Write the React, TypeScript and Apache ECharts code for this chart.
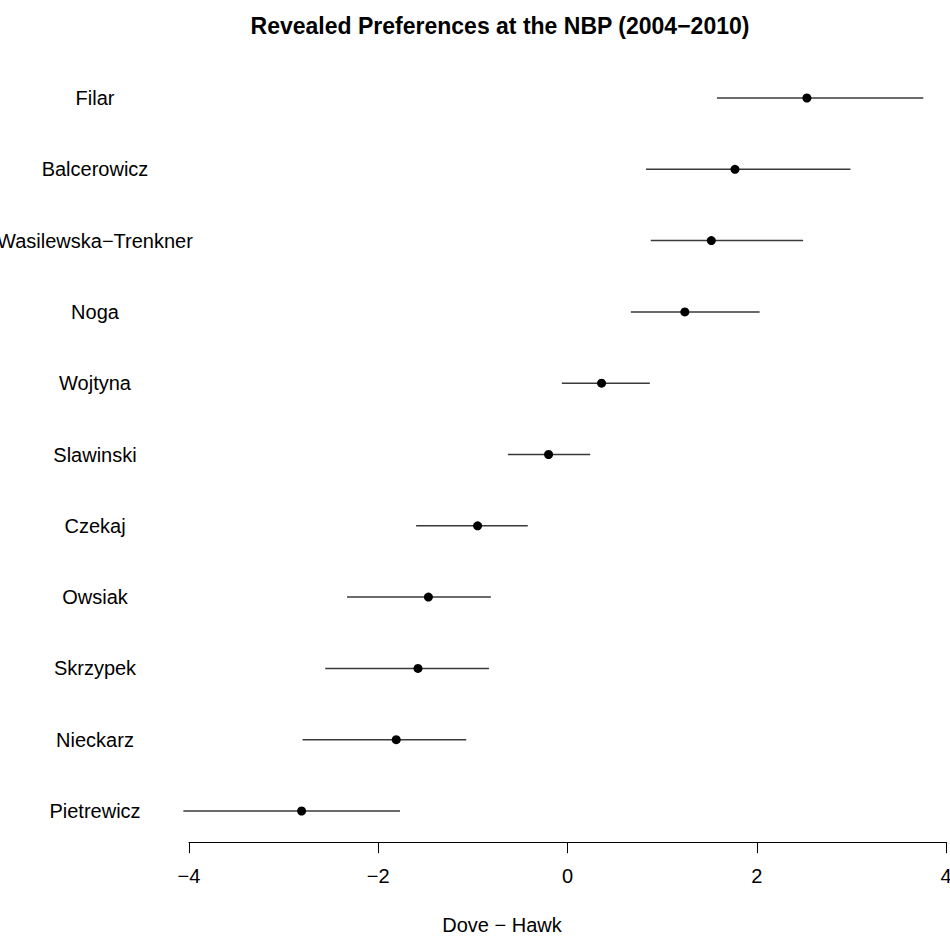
import React, { useEffect, useRef } from "react";
import * as echarts from "echarts";

const names = [
  "Filar",
  "Balcerowicz",
  "Wasilewska\u2212Trenkner",
  "Noga",
  "Wojtyna",
  "Slawinski",
  "Czekaj",
  "Owsiak",
  "Skrzypek",
  "Nieckarz",
  "Pietrewicz",
];
const estimates = [2.53, 1.77, 1.52, 1.24, 0.36, -0.2, -0.95, -1.47, -1.58, -1.81, -2.81];
const lower = [1.58, 0.83, 0.88, 0.67, -0.06, -0.63, -1.6, -2.33, -2.56, -2.8, -4.06];
const upper = [3.76, 2.99, 2.49, 2.03, 0.87, 0.24, -0.42, -0.81, -0.83, -1.07, -1.77];
const xTicks = [-4, -2, 0, 2, 4];

const FONT = "'Liberation Sans', Arial, Helvetica, sans-serif";

export default function App() {
  const ref = useRef<HTMLDivElement>(null);
  useEffect(() => {
    if (!ref.current) return;
    const chart = echarts.init(ref.current, null, { renderer: "svg" });
    const option: any = {
      animation: false,
      backgroundColor: "#ffffff",
      textStyle: { fontFamily: FONT },
      title: [
        {
          text: "Revealed Preferences at the NBP (2004\u22122010)",
          left: 495,
          top: 9,
          textAlign: "center",
          textStyle: { fontFamily: FONT, fontSize: 23, fontWeight: "bold", color: "#000" },
        },
        {
          text: "Dove \u2212 Hawk",
          left: 497,
          top: 910,
          textAlign: "center",
          textStyle: { fontFamily: FONT, fontSize: 20, fontWeight: "normal", color: "#000" },
        },
      ],
      grid: {
        left: 189,
        right: 4,
        top: 62.35,
        bottom: 91.35,
        containLabel: false,
        outerBoundsMode: "none",
      },
      xAxis: {
        type: "value",
        min: xTicks[0],
        max: xTicks[xTicks.length - 1],
        interval: 2,
        offset: -4.5,
        axisLine: { show: true, lineStyle: { color: "#000", width: 1 } },
        axisTick: { show: true, length: 11, lineStyle: { color: "#000", width: 1 } },
        splitLine: { show: false },
        axisLabel: {
          color: "#000",
          fontSize: 20,
          fontFamily: FONT,
          margin: 24,
          formatter: (v: number) => String(v).replace("-", "\u2212"),
        },
      },
      yAxis: {
        type: "category",
        data: names,
        inverse: true,
        axisLine: { show: false },
        axisTick: { show: false },
        splitLine: { show: false },
        axisLabel: {
          color: "#000",
          fontSize: 20,
          fontFamily: FONT,
          align: "center",
          margin: 94,
        },
      },
      series: [
        {
          type: "custom",
          data: names.map((n, i) => [lower[i], upper[i], i]),
          encode: { x: [0, 1], y: 2 },
          renderItem: (params: any, api: any) => {
            const i = api.value(2);
            const p1 = api.coord([api.value(0), i]);
            const p2 = api.coord([api.value(1), i]);
            return {
              type: "line",
              shape: { x1: p1[0], y1: p1[1], x2: p2[0], y2: p2[1] },
              style: { stroke: "#3a3a3a", lineWidth: 1.5 },
            };
          },
          z: 1,
        },
        {
          type: "scatter",
          data: names.map((n, i) => [estimates[i], i]),
          symbol: "circle",
          symbolSize: 9,
          itemStyle: { color: "#000", opacity: 1 },
          z: 2,
        },
      ],
    };
    chart.setOption(option);
    return () => chart.dispose();
  }, []);
  return (
    <div
      ref={ref}
      style={{ position: "absolute", left: 0, top: 0, width: 950, height: 938, background: "#fff" }}
    />
  );
}
